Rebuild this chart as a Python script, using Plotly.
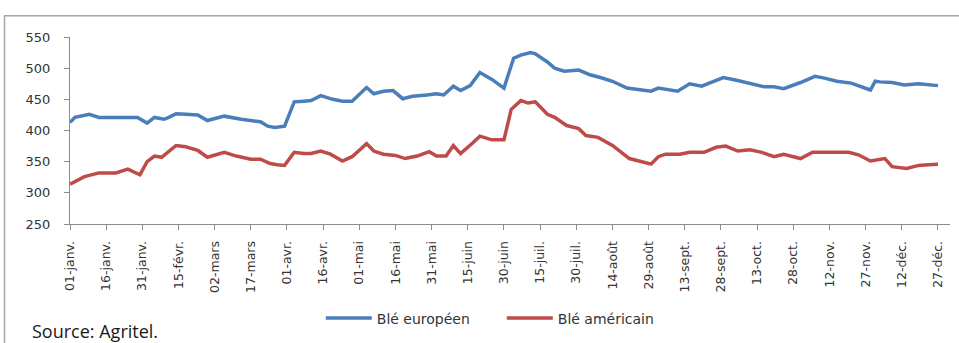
import pandas as pd
import plotly.graph_objects as go

# Day offsets from 1 January and prices for each series
debut = pd.Timestamp("2010-01-01")

jours_eu = [0, 2, 8, 12, 28, 32, 35, 39, 41, 44, 48, 53, 57, 64, 71, 79, 82, 85, 89, 93,
            97, 100, 104, 109, 113, 117, 123, 126, 130, 134, 138, 142, 148, 152, 155, 159,
            162, 166, 170, 175, 180, 184, 187, 191, 193, 198, 201, 205, 211, 216, 220, 225,
            231, 236, 241, 244, 248, 252, 257, 262, 267, 271, 276, 283, 288, 292, 296, 303,
            309, 313, 318, 324, 328, 332, 334, 336, 341, 346, 352, 356, 360]
ble_europeen = [413, 421, 426, 421, 421, 412, 421, 418, 421, 427, 426, 425, 416, 423, 418,
                414, 407, 405, 407, 446, 447, 448, 456, 450, 447, 447, 469, 459, 463, 464,
                451, 455, 457, 459, 457, 471, 464, 472, 493, 482, 468, 516, 521, 525, 523,
                510, 500, 495, 497, 489, 485, 479, 468, 465, 463, 468, 466, 463, 475, 471,
                479, 485, 481, 474, 470, 470, 467, 477, 487, 484, 479, 476, 471, 465, 479,
                478, 477, 473, 475, 474, 472]

jours_us = [0, 6, 12, 19, 24, 29, 32, 35, 38, 44, 48, 53, 57, 64, 69, 75, 79, 83, 86, 89,
            93, 97, 100, 104, 108, 113, 117, 123, 126, 130, 135, 139, 144, 149, 152, 156,
            159, 162, 167, 170, 175, 180, 183, 187, 190, 193, 198, 201, 206, 211, 214, 219,
            225, 232, 236, 241, 244, 247, 253, 257, 263, 268, 272, 277, 282, 287, 292, 296,
            303, 308, 315, 323, 327, 332, 338, 341, 347, 352, 356, 360]
ble_americain = [314, 326, 332, 332, 338, 329, 350, 359, 357, 376, 374, 368, 357, 365, 359,
                 354, 354, 347, 345, 344, 365, 363, 363, 367, 362, 351, 358, 379, 367, 362,
                 360, 355, 359, 366, 359, 359, 376, 363, 380, 391, 385, 385, 434, 448, 444,
                 446, 426, 421, 408, 403, 392, 389, 376, 355, 351, 346, 358, 362, 362, 365,
                 365, 373, 375, 367, 369, 365, 358, 362, 355, 365, 365, 365, 361, 351, 355,
                 342, 339, 344, 345, 346]

# Axis ticks: every 15 days
jours_ticks = list(range(0, 361, 15))
etiquettes = ["01-janv.", "16-janv.", "31-janv.", "15-févr.", "02-mars", "17-mars",
              "01-avr.", "16-avr.", "01-mai", "16-mai", "31-mai", "15-juin", "30-juin",
              "15-juil.", "30-juil.", "14-août", "29-août", "13-sept.", "28-sept.",
              "13-oct.", "28-oct.", "12-nov.", "27-nov.", "12-déc.", "27-déc."]
y_ticks = [250, 300, 350, 400, 450, 500, 550]


def to_dates(jours):
    return [debut + pd.Timedelta(days=j) for j in jours]


fig = go.Figure()
fig.add_trace(go.Scatter(
    x=to_dates(jours_eu), y=ble_europeen, mode="lines", name="Blé européen",
    line=dict(color="#4a7ebb", width=3.5),
))
fig.add_trace(go.Scatter(
    x=to_dates(jours_us), y=ble_americain, mode="lines", name="Blé américain",
    line=dict(color="#be4b48", width=3.5),
))

axis_color = "#8c8c8c"
fig.update_xaxes(
    range=[debut, debut + pd.Timedelta(days=365)],
    tickmode="array", tickvals=to_dates(jours_ticks), ticktext=etiquettes,
    tickangle=-90, ticks="outside", ticklen=5, tickcolor=axis_color,
    tickfont=dict(family="DejaVu Sans", size=12.5, color="#333333"),
    showline=True, linecolor=axis_color, linewidth=1,
    showgrid=False, zeroline=False, ticklabelstandoff=6,
)
fig.update_yaxes(
    range=[250, 550], tickmode="array", tickvals=y_ticks,
    ticks="outside", ticklen=5, tickcolor=axis_color,
    tickfont=dict(family="DejaVu Sans", size=13, color="#333333"),
    showline=True, linecolor=axis_color, linewidth=1,
    showgrid=False, zeroline=False, ticklabelstandoff=11,
)

fig.update_layout(
    width=959, height=343,
    margin=dict(l=70, r=9, t=37, b=116),
    paper_bgcolor="white", plot_bgcolor="white",
    showlegend=True,
    legend=dict(
        orientation="h", x=0.285, xanchor="left", y=-0.505, yanchor="middle",
        font=dict(family="DejaVu Sans", size=14, color="#333333"),
        itemwidth=46, entrywidth=120, entrywidthmode="pixels",
        bgcolor="rgba(0,0,0,0)",
    ),
    shapes=[dict(
        type="rect", xref="paper", yref="paper",
        x0=-0.0744, x1=1.02, y0=-0.7, y1=1.114,
        line=dict(color="#a6a6a6", width=1.5), fillcolor="rgba(0,0,0,0)",
        layer="below",
    )],
    annotations=[dict(
        text="Source: Agritel.", xref="paper", yref="paper",
        x=-0.046, y=-0.497, xanchor="left", yanchor="top", showarrow=False,
        font=dict(family="Open Sans", size=18, color="#1a1a1a"),
    )],
)

fig.write_html("out.html")
